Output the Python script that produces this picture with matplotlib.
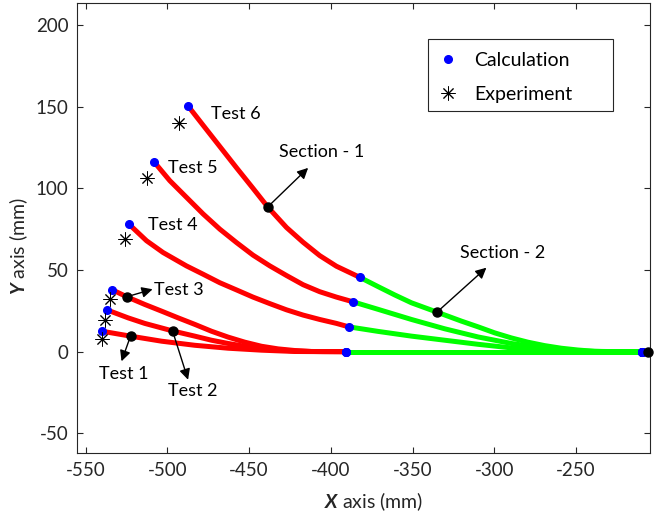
import matplotlib
matplotlib.use("Agg")
import matplotlib.pyplot as plt
from matplotlib.patches import Rectangle

plt.rcParams['font.family'] = ['Lato', 'DejaVu Sans']
plt.rcParams['mathtext.fontset'] = 'custom'
plt.rcParams['mathtext.bf'] = 'Lato:bold:italic'
plt.rcParams['axes.unicode_minus'] = False

# ---- data ----
test_names = ["Test 1", "Test 2", "Test 3", "Test 4", "Test 5", "Test 6"]

red_x = [
    [-539.9, -522.5, -503.5, -483.2, -462.8, -442.4, -422.1, -405.0, -390.5],
    [-537.0, -524.0, -513.8, -496.8, -483.2, -473.0, -462.8, -452.6, -442.4,
     -432.3, -422.1, -411.9, -390.5],
    [-533.7, -524.8, -513.8, -503.5, -493.4, -483.2, -473.0, -462.8, -452.6,
     -442.4, -432.3, -422.1, -411.9, -390.5],
    [-523.3, -512.7, -502.6, -488.3, -478.1, -467.9, -457.7, -447.6, -437.3,
     -427.1, -417.0, -406.8, -396.6, -389.1],
    [-508.1, -498.5, -488.3, -478.1, -467.9, -457.7, -447.6, -437.3, -427.1,
     -417.0, -406.8, -396.6, -386.4],
    [-487.3, -478.1, -467.9, -457.7, -447.6, -438.6, -427.1, -417.0, -406.8,
     -396.6, -382.3],
]
red_y = [
    [12.5, 9.5, 6.4, 3.9, 2.1, 0.9, 0.1, 0.0, 0.0],
    [25.6, 20.7, 17.3, 12.7, 9.5, 7.0, 5.0, 3.3, 2.1, 1.1, 0.4, 0.1, 0.0],
    [37.9, 33.6, 28.9, 24.8, 20.7, 16.7, 12.5, 8.9, 5.8, 3.3, 1.7, 0.7, 0.1, 0.0],
    [77.9, 67.9, 60.7, 52.5, 47.4, 42.2, 37.8, 33.4, 29.4, 25.6, 22.4, 19.7, 17.3, 15.2],
    [116.2, 104.7, 94.5, 84.3, 75.0, 66.8, 59.1, 52.5, 46.6, 41.0, 36.7, 33.4, 30.5],
    [150.4, 138.6, 125.6, 112.6, 100.0, 88.6, 76.0, 67.0, 58.8, 52.3, 45.5],
]
green_x = [
    [-390.5, -209.5],
    [-390.5, -209.5],
    [-390.5, -209.5],
    [-389.1, -371.1, -350.7, -330.4, -310.0, -289.6, -269.3, -248.9, -230.0, -209.5],
    [-386.4, -371.1, -350.7, -330.4, -310.0, -289.6, -269.3, -248.9, -230.0, -209.5],
    [-382.3, -371.1, -360.9, -350.7, -335.1, -320.2, -310.0, -299.8, -289.6,
     -279.5, -269.3, -259.1, -248.9, -238.7, -225.0, -209.5],
]
green_y = [
    [0.0, 0.0],
    [0.0, 0.0],
    [0.0, 0.0],
    [15.2, 12.4, 9.5, 7.0, 4.5, 2.3, 0.9, 0.2, 0.0, 0.0],
    [30.5, 25.9, 19.7, 14.0, 9.0, 5.0, 2.1, 0.4, 0.0, 0.0],
    [45.5, 39.8, 34.7, 29.9, 24.2, 18.7, 15.2, 11.5, 8.4, 5.8, 3.7, 2.1, 1.0,
     0.2, 0.0, 0.0],
]

exp_x = [-540.0, -538.0, -535.1, -525.6, -512.3, -492.8]
exp_y = [7.8, 19.5, 32.4, 68.7, 106.1, 140.0]

black_x = [-438.6, -335.1, -524.8, -496.8, -522.5, -206.0]
black_y = [88.6, 24.2, 33.6, 12.7, 9.5, 0.0]

# annotations: (text, text x, text y, arrow start x, y, arrow head x, y)
annotations = [
    ("Section - 1", -431.7, 122.5, -438.6, 88.6, -413.9, 112.5),
    ("Section - 2", -321.2, 60.1, -335.1, 24.2, -304.9, 51.4),
    ("Test 3", -508.1, 37.7, -524.8, 33.6, -509.0, 38.2),
    ("Test 2", -499.5, -24.3, -496.8, 12.7, -487.3, -17.2),
    ("Test 1", -541.7, -13.7, -522.5, 9.5, -528.0, -5.9),
]
labels_plain = [
    ("Test 4", -511.7, 77.7),
    ("Test 5", -499.5, 112.5),
    ("Test 6", -473.0, 145.7),
]

x_ticks = [-550, -500, -450, -400, -350, -300, -250]
y_ticks = [-50, 0, 50, 100, 150, 200]

# ---- figure ----
fig = plt.figure(figsize=(6.57, 5.17), dpi=100)
ax = fig.add_axes([0.117, 0.123, 0.873, 0.8707])

for rx, ry, gx, gy in zip(red_x, red_y, green_x, green_y):
    ax.plot(gx, gy, color='#00FF00', lw=3.6, solid_capstyle='butt',
            solid_joinstyle='round', zorder=2)
    ax.plot(rx, ry, color='#FF0000', lw=3.6, solid_capstyle='butt',
            solid_joinstyle='round', zorder=3)

calc_x, calc_y = [], []
for rx, ry, gx, gy in zip(red_x, red_y, green_x, green_y):
    calc_x += [rx[0], rx[-1], gx[-1]]
    calc_y += [ry[0], ry[-1], gy[-1]]
ax.plot(calc_x, calc_y, 'o', color='#0000FF', ms=5.5, mec='#0000FF', ls='none',
        zorder=5, label='Calculation')
ax.plot(black_x, black_y, 'o', color='k', ms=6.5, ls='none', zorder=6, clip_on=False)
ax.plot(exp_x, exp_y, ls='none', marker=(8, 2, 0), color='k', ms=10, mew=0.7,
        zorder=6, label='Experiment')

fs = 13
for txt, tx, ty, sx, sy, hx, hy in annotations:
    ax.annotate('', xy=(hx, hy), xytext=(sx, sy),
                arrowprops=dict(arrowstyle='-|>', color='k', lw=1.0,
                                mutation_scale=16, shrinkA=0, shrinkB=0),
                zorder=7)
    ax.text(tx, ty, txt, fontsize=fs, ha='left', va='center', color='k', zorder=8)
for txt, tx, ty in labels_plain:
    ax.text(tx, ty, txt, fontsize=fs, ha='left', va='center', color='k', zorder=8)

ax.set_xlim(-555.3, -204.6)
ax.set_ylim(-62.3, 213.3)
ax.set_xticks(x_ticks)
ax.set_yticks(y_ticks)
ax.tick_params(direction='in', top=True, right=True, length=4, width=0.8,
               labelsize=13.5, colors='#262626', pad=6)
for s in ax.spines.values():
    s.set_color('#262626')
    s.set_linewidth(0.8)

ax.set_xlabel(r'$\mathbf{X}$ axis (mm)', fontsize=14, color='#262626')
ax.set_ylabel(r'$\mathbf{Y}$ axis (mm)', fontsize=14, color='#262626')
ax.xaxis.set_label_coords(0.518, -0.082)
ax.yaxis.set_label_coords(-0.082, 0.46)

# legend box (frame drawn separately to match the reference padding)
ax.add_patch(Rectangle((0.612, 0.761), 0.322, 0.160, transform=ax.transAxes,
                       facecolor='white', edgecolor='#262626', lw=0.8, zorder=9))
leg = ax.legend(loc='upper left', bbox_to_anchor=(0.612, 0.914), borderaxespad=0,
                fontsize=14, frameon=False, borderpad=0.5, labelspacing=0.9,
                handletextpad=0.81, handlelength=1.06)
leg.set_zorder(10)

fig.savefig('out.png', dpi=100)
